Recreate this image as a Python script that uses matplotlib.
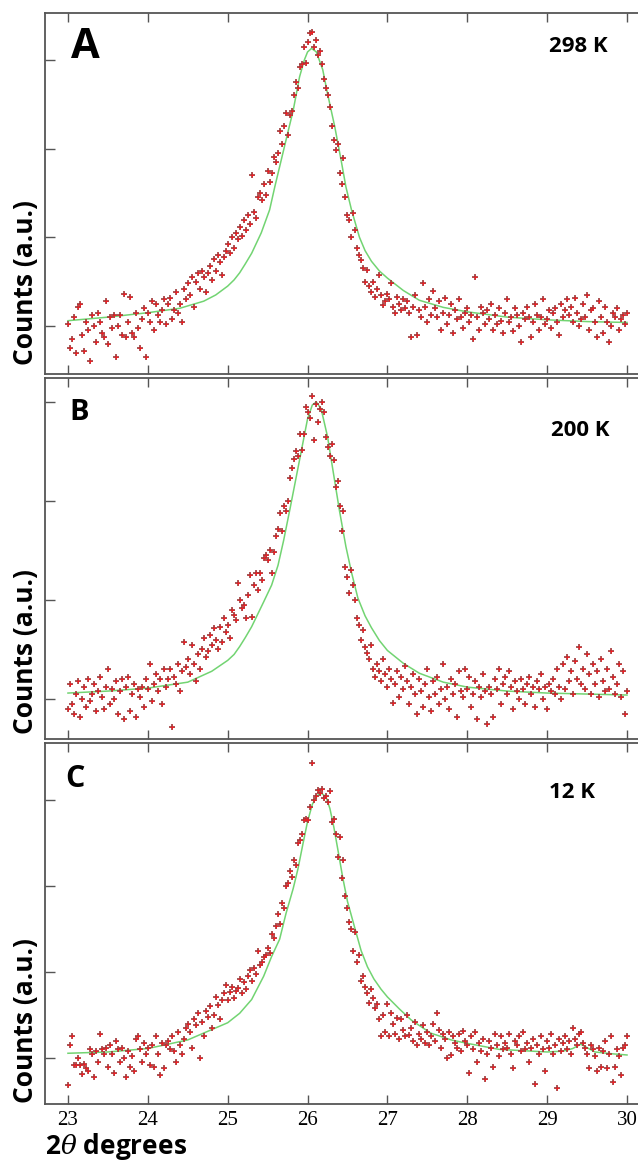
import numpy as np
import matplotlib
matplotlib.use("Agg")
import matplotlib.pyplot as plt

# ---------------- data ----------------
# measurement grid (2theta, degrees): 23.000 .. 30.000 in 0.025 steps
two_theta = np.linspace(23.0, 30.0, 281)

counts_298K = [
    0.02, -0.25, -0.15, 0.1, -0.3, 0.22, 0.25, -0.1, -0.28, 0.05,
    -0.05, -0.4, 0.12, 0.0, -0.18, 0.15, 0.05, -0.08, -0.12, 0.28,
    -0.2, 0.1, -0.02, 0.12, -0.35, 0.0, 0.12, -0.1, 0.36, -0.12,
    0.05, 0.33, -0.08, -0.12, 0.15, -0.02, -0.25, 0.08, 0.2, -0.35,
    0.15, 0.05, 0.28, -0.05, 0.25, 0.12, 0.05, 0.18, 0.3, 0.02,
    0.25, 0.32, 0.08, 0.18, 0.38, 0.15, 0.25, 0.05, 0.42, 0.3,
    0.48, 0.35, 0.55, 0.22, 0.5, 0.6, 0.42, 0.62, 0.55, 0.38,
    0.6, 0.68, 0.52, 0.75, 0.62, 0.8, 0.72, 0.58, 0.78, 0.85,
    0.92, 0.82, 1.0, 0.88, 1.05, 0.98, 1.12, 1.02, 1.2, 1.08,
    1.25, 1.15, 1.7, 1.28, 1.22, 1.45, 1.5, 1.42, 1.6, 1.48,
    1.75, 1.62, 1.72, 1.9, 1.85, 1.95, 2.2, 2.05, 2.25, 2.4,
    2.15, 2.38, 2.42, 2.6, 2.75, 2.68, 2.92, 2.95, 3.15, 2.96,
    3.2, 3.3, 3.32, 3.15, 3.22, 3.05, 3.1, 2.95, 2.78, 2.68,
    2.6, 2.47, 2.25, 2.1, 1.98, 2.05, 1.72, 1.6, 1.89, 1.45,
    1.25, 1.2, 1.0, 1.27, 1.08, 0.88, 0.8, 0.74, 0.65, 0.5,
    0.63, 0.45, 0.38, 0.5, 0.33, 0.42, 0.58, 0.35, 0.24, 0.28,
    0.36, 0.3, 0.48, 0.22, 0.15, 0.33, 0.25, 0.18, 0.3, 0.2,
    0.28, 0.15, -0.12, 0.22, 0.35, -0.1, 0.18, 0.1, 0.48, 0.22,
    0.05, 0.3, 0.12, 0.4, 0.2, 0.1, 0.28, -0.05, 0.15, 0.32,
    0.02, 0.12, 0.25, -0.08, 0.18, 0.08, 0.3, 0.1, -0.02, 0.15,
    0.2, 0.05, 0.12, -0.15, 0.55, 0.1, -0.05, 0.22, 0.15, 0.02,
    0.18, 0.08, 0.25, -0.05, 0.12, 0.02, 0.2, 0.06, -0.08, 0.15,
    0.3, 0.05, 0.1, -0.06, 0.2, 0.12, 0.0, -0.18, 0.15, 0.08,
    0.22, 0.1, -0.12, 0.05, 0.25, 0.12, -0.05, 0.1, 0.3, 0.02,
    0.08, 0.18, -0.02, 0.15, 0.2, 0.05, -0.1, 0.25, 0.1, 0.18,
    0.3, 0.12, 0.22, 0.05, 0.32, 0.15, 0.0, 0.08, 0.25, 0.1,
    0.35, -0.05, 0.18, 0.2, 0.05, -0.12, 0.28, 0.1, -0.08, 0.22,
    0.05, -0.18, 0.0, 0.15, 0.1, 0.2, -0.05, 0.08, 0.12, 0.02,
    0.15,
]

counts_200K = [
    -0.1, 0.15, -0.05, -0.15, 0.05, 0.18, -0.18, 0.0, 0.12, -0.08,
    0.2, -0.02, 0.05, 0.15, -0.12, 0.08, 0.22, 0.02, -0.1, 0.12,
    0.3, -0.05, 0.1, 0.0, 0.18, -0.15, 0.08, 0.2, -0.2, 0.12,
    0.22, -0.12, 0.05, 0.15, -0.18, 0.1, 0.02, 0.12, -0.08, 0.2,
    0.1, 0.35, -0.02, 0.15, 0.25, 0.08, 0.2, -0.05, 0.3, 0.12,
    0.2, 0.3, -0.28, 0.22, 0.15, 0.35, 0.08, 0.28, 0.58, 0.32,
    0.4, 0.25, 0.55, 0.35, 0.18, 0.45, 0.3, 0.5, 0.62, 0.42,
    0.48, 0.65, 0.55, 0.72, 0.6, 0.5, 0.73, 0.58, 0.82, 0.68,
    0.75, 0.62, 0.9, 0.85, 0.8, 1.17, 1.0, 0.92, 0.95, 0.82,
    1.05, 1.25, 0.83, 1.15, 1.27, 1.1, 1.27, 1.2, 1.42, 1.45,
    1.4, 1.5, 1.27, 1.48, 1.65, 1.72, 1.88, 1.7, 1.95, 1.9,
    2.0, 2.23, 2.33, 2.42, 2.5, 2.45, 2.68, 2.51, 2.68, 2.95,
    2.9, 2.84, 3.06, 2.62, 2.98, 2.8, 2.93, 3.0, 2.9, 2.65,
    2.55, 2.45, 2.58, 2.41, 2.14, 2.2, 1.95, 1.7, 1.9, 1.33,
    1.23, 1.07, 1.3, 1.15, 1.0, 0.82, 0.75, 0.6, 0.7, 0.53,
    0.46, 0.4, 0.55, 0.3, 0.22, 0.35, 0.28, 0.18, 0.4, 0.25,
    0.12, 0.3, 0.2, -0.04, 0.15, 0.28, 0.02, 0.22, 0.1, 0.33,
    0.18, -0.05, 0.12, 0.25, 0.05, -0.15, 0.2, 0.08, -0.08, 0.15,
    0.3, 0.02, -0.12, 0.18, 0.05, 0.22, -0.05, 0.1, 0.35, 0.0,
    0.12, -0.1, 0.2, 0.05, 0.15, -0.18, 0.28, 0.08, 0.02, 0.3,
    0.1, 0.22, -0.08, 0.05, 0.18, -0.2, 0.12, 0.02, 0.25, 0.08,
    -0.25, 0.12, 0.05, -0.18, 0.2, 0.1, 0.3, -0.05, 0.15, 0.22,
    0.05, 0.28, 0.12, -0.1, 0.18, 0.08, 0.0, 0.2, 0.1, -0.05,
    0.15, 0.22, 0.05, 0.12, -0.08, 0.18, 0.1, 0.25, 0.0, 0.12,
    -0.1, 0.15, 0.08, 0.2, 0.05, 0.3, 0.12, 0.0, 0.35, 0.1,
    0.42, 0.18, 0.28, 0.05, 0.38, 0.2, 0.53, 0.15, 0.3, 0.1,
    0.45, 0.25, 0.05, 0.35, 0.15, 0.28, 0.02, 0.4, 0.18, 0.08,
    0.3, 0.1, 0.48, 0.22, 0.05, 0.15, 0.35, 0.02, 0.28, -0.15,
    0.08,
]

counts_12K = [
    -0.31, 0.15, 0.25, -0.08, -0.08, 0.0, -0.08, -0.19, -0.07, -0.12,
    -0.15, 0.1, 0.05, -0.22, 0.08, -0.05, 0.28, 0.1, 0.05, 0.12,
    -0.1, 0.15, 0.05, -0.18, 0.2, 0.1, -0.05, 0.12, 0.0, -0.22,
    0.08, -0.1, 0.02, -0.15, 0.22, 0.25, 0.1, -0.05, 0.18, 0.05,
    0.12, -0.08, 0.15, -0.1, 0.25, 0.05, -0.2, 0.18, -0.12, 0.15,
    0.2, 0.1, 0.25, 0.08, -0.05, 0.3, 0.15, 0.05, 0.22, 0.35,
    0.4, 0.3, 0.12, 0.45, 0.38, 0.52, 0.0, 0.42, 0.25, 0.55,
    0.48, 0.6, 0.35, 0.5, 0.71, 0.62, 0.45, 0.68, 0.75, 0.85,
    0.68, 0.77, 0.82, 0.7, 0.78, 0.81, 0.92, 0.75, 0.88, 0.8,
    0.95, 1.02, 0.9, 1.05, 0.98, 1.25, 1.08, 1.12, 1.18, 1.2,
    1.28, 1.22, 1.44, 1.4, 1.53, 1.68, 1.56, 1.8, 1.75, 2.0,
    2.03, 2.17, 2.1, 2.3, 2.25, 2.5, 2.53, 2.6, 2.77, 2.78,
    2.77, 2.92, 3.43, 3.0, 3.05, 3.12, 3.08, 3.13, 3.02, 3.05,
    2.98, 3.1, 2.75, 2.78, 2.6, 2.34, 2.57, 2.09, 2.3, 1.88,
    1.74, 1.58, 1.5, 1.24, 1.47, 1.12, 1.2, 0.9, 0.95, 0.82,
    0.75, 0.64, 0.8, 0.7, 0.58, 0.63, 0.45, 0.25, 0.5, 0.3,
    0.63, 0.26, 0.52, 0.4, 0.28, 0.47, 0.22, 0.45, 0.32, 0.25,
    0.5, 0.27, 0.35, 0.2, 0.42, 0.15, 0.28, 0.22, 0.38, 0.18,
    0.3, 0.15, 0.25, 0.4, 0.2, 0.52, 0.32, 0.12, 0.28, 0.22,
    0.0, 0.3, 0.04, 0.25, 0.18, 0.12, 0.28, 0.08, 0.31, 0.2,
    0.15, -0.18, 0.25, 0.1, 0.3, -0.05, 0.18, 0.08, 0.22, -0.25,
    0.05, 0.2, 0.12, -0.1, 0.28, 0.15, 0.02, 0.25, 0.1, 0.18,
    0.12, 0.28, 0.05, -0.12, 0.2, 0.15, 0.25, 0.08, 0.3, 0.1,
    0.18, -0.05, 0.12, 0.22, -0.3, 0.15, 0.05, 0.25, 0.1, -0.15,
    0.2, 0.12, 0.28, 0.05, 0.15, -0.35, 0.22, 0.08, 0.18, 0.25,
    0.1, 0.2, 0.05, 0.35, 0.22, 0.15, 0.28, 0.3, 0.18, 0.12,
    0.05, -0.12, 0.15, 0.1, 0.02, -0.15, 0.12, -0.1, 0.08, 0.2,
    -0.12, 0.05, 0.25, -0.28, -0.1, 0.1, 0.02, -0.2, 0.12, 0.15,
    0.25,
]

# fitted profiles
fit_x_298K = [23.0, 23.5, 24.0, 24.4, 24.7, 24.85, 25.0, 25.08, 25.15, 25.22,
              25.3, 25.42, 25.525, 25.59, 25.67, 25.75, 25.82, 25.9, 25.96, 26.0,
              26.05, 26.11, 26.19, 26.25, 26.34, 26.42, 26.48, 26.55, 26.65, 26.72,
              26.8, 26.9, 27.0, 27.2, 27.4, 27.7, 28.0, 28.5, 29.0, 29.5, 30.0]
fit_y_298K = [0.06, 0.10, 0.15, 0.20, 0.28, 0.35, 0.45, 0.52, 0.60, 0.70,
              0.82, 1.05, 1.31, 1.57, 1.87, 2.17, 2.43, 2.81, 3.00, 3.09,
              3.13, 3.09, 2.89, 2.62, 2.25, 1.87, 1.57, 1.31, 1.00, 0.85,
              0.73, 0.62, 0.54, 0.40, 0.29, 0.21, 0.16, 0.10, 0.07, 0.05, 0.04]

fit_x_200K = [23.0, 23.5, 24.0, 24.5, 24.8, 25.0, 25.08, 25.15, 25.22, 25.3,
              25.45, 25.55, 25.63, 25.7, 25.78, 25.86, 25.94, 26.0, 26.06, 26.11,
              26.17, 26.25, 26.34, 26.4, 26.48, 26.55, 26.63, 26.72, 26.8, 26.9,
              27.0, 27.2, 27.4, 27.7, 28.0, 28.5, 29.0, 29.5, 30.0]
fit_y_200K = [0.06, 0.08, 0.11, 0.17, 0.28, 0.39, 0.45, 0.53, 0.62, 0.73,
              0.98, 1.15, 1.35, 1.60, 1.92, 2.25, 2.58, 2.83, 2.97, 3.00,
              2.93, 2.65, 2.20, 1.90, 1.54, 1.28, 1.02, 0.84, 0.72, 0.59,
              0.49, 0.36, 0.26, 0.17, 0.12, 0.08, 0.06, 0.05, 0.04]

fit_x_12K = [23.0, 23.5, 24.0, 24.5, 24.8, 25.0, 25.15, 25.3, 25.45, 25.55,
             25.65, 25.73, 25.82, 25.88, 25.94, 26.0, 26.06, 26.12, 26.17, 26.23,
             26.28, 26.33, 26.38, 26.44, 26.5, 26.58, 26.67, 26.75, 26.83, 26.92,
             27.0, 27.15, 27.3, 27.54, 27.8, 28.0, 28.4, 29.0, 29.2, 29.32,
             29.42, 29.5, 29.6, 29.8, 30.0]
fit_y_12K = [0.055, 0.07, 0.11, 0.21, 0.33, 0.41, 0.52, 0.68, 0.95, 1.18,
             1.38, 1.68, 1.97, 2.20, 2.48, 2.75, 2.95, 3.05, 3.08, 3.04,
             2.90, 2.68, 2.42, 2.10, 1.82, 1.55, 1.25, 1.06, 0.92, 0.80,
             0.71, 0.57, 0.44, 0.29, 0.21, 0.17, 0.10, 0.07, 0.08, 0.11,
             0.16, 0.12, 0.07, 0.05, 0.035]

panel_letters = ["A", "B", "C"]
temperatures = ["298 K", "200 K", "12 K"]
x_ticks = [23, 24, 25, 26, 27, 28, 29, 30]
y_ticks = [0, 1, 2, 3]
x_label = r"2$\mathit{\theta}$ degrees"
y_label = "Counts (a.u.)"

# ---------------- layout ----------------
W, H = 638, 1160
plt.rcParams["mathtext.fontset"] = "dejavuserif"
fig = plt.figure(figsize=(W / 100, H / 100), dpi=100)
fig.patch.set_facecolor("white")

left_px = 45
panels = [
    dict(top=13, bot=374, ylim=(-0.541, 3.529), data=counts_298K,
         fx=fit_x_298K, fy=fit_y_298K, letter_xy=(85, 47), letter_size=30,
         temp_xy=(578, 47), ylab_y=283),
    dict(top=378, bot=739, ylim=(-0.404, 3.242), data=counts_200K,
         fx=fit_x_200K, fy=fit_y_200K, letter_xy=(79, 413), letter_size=21,
         temp_xy=(580, 430), ylab_y=652),
    dict(top=743, bot=1104, ylim=(-0.535, 3.663), data=counts_12K,
         fx=fit_x_12K, fy=fit_y_12K, letter_xy=(75, 779), letter_size=22,
         temp_xy=(572, 792), ylab_y=1021),
]

spine_col = "#555555"
for k, p in enumerate(panels):
    ax = fig.add_axes([left_px / W, 1 - p["bot"] / H, (W - left_px) / W,
                       (p["bot"] - p["top"]) / H])
    ax.set_xlim(23 - (68 - left_px) / 80, 30 + (W - 627) / 80)
    ax.set_ylim(*p["ylim"])
    ax.plot(p["fx"], p["fy"], color="#72d472", lw=1.1, zorder=2)
    ax.plot(two_theta, p["data"], ls="none", marker="+", ms=5.0, mew=1.2,
            color="#9b3a3a", zorder=3)
    ax.plot(two_theta, p["data"], ls="none", marker="+", ms=3.2, mew=0.6,
            color="#f01e24", zorder=4)
    ax.set_xticks(x_ticks)
    ax.set_yticks(y_ticks)
    ax.tick_params(axis="x", direction="in", top=True, bottom=True,
                   length=6.5, width=1.0, color=spine_col,
                   labelbottom=(k == 2), labelsize=15, pad=5)
    ax.tick_params(axis="y", direction="in", left=True, right=False,
                   length=7, width=1.0, color=spine_col, labelleft=False)
    if k == 2:
        for lab in ax.get_xticklabels():
            lab.set_fontfamily("Liberation Serif")
    for s in ["left", "top", "bottom"]:
        ax.spines[s].set_color(spine_col)
        ax.spines[s].set_linewidth(1.3)
    ax.spines["right"].set_visible(False)

    fig.text(p["letter_xy"][0] / W, 1 - p["letter_xy"][1] / H, panel_letters[k],
             ha="center", va="center", fontsize=p["letter_size"],
             fontweight="bold", family="Open Sans")
    fig.text(p["temp_xy"][0] / W, 1 - p["temp_xy"][1] / H, temperatures[k],
             ha="center", va="center", fontsize=16, fontweight="bold",
             family="Open Sans")
    fig.text(25 / W, 1 - p["ylab_y"] / H, y_label, rotation=90,
             ha="center", va="center", fontsize=19, fontweight="bold",
             family="Open Sans")

fig.text(45 / W, 1 - 1146 / H, x_label, ha="left", va="center",
         fontsize=19, fontweight="bold", family="Open Sans")

fig.savefig("out.png", dpi=100)
